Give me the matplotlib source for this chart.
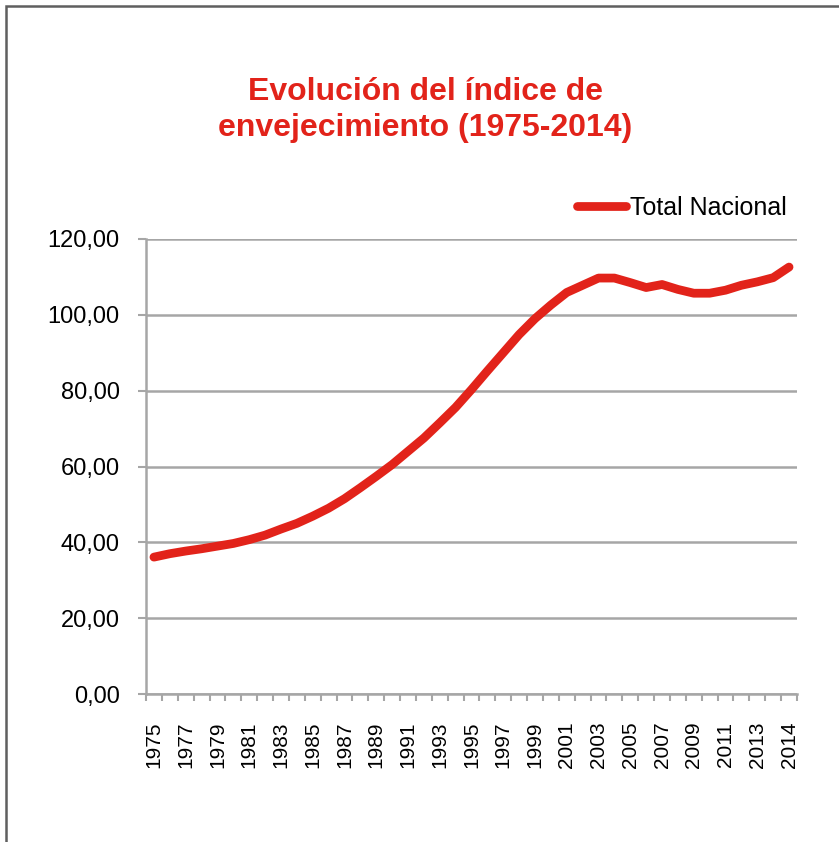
import matplotlib
matplotlib.use("Agg")
import matplotlib.pyplot as plt
from matplotlib.patches import Rectangle
from matplotlib.ticker import FuncFormatter

plt.rcParams['font.family'] = ['Liberation Sans', 'DejaVu Sans']

# datos (41 categorias, etiqueta cada dos)
categories = [str(y) for y in range(1975, 2014)] + ["2014", "2014"]
total_nacional = [36.1, 37.0, 37.7, 38.3, 39.0, 39.7, 40.7, 41.9, 43.5, 45.0,
                  46.9, 49.0, 51.5, 54.4, 57.4, 60.5, 64.0, 67.5, 71.5, 75.6,
                  80.3, 85.2, 90.0, 94.8, 99.0, 102.6, 105.9, 107.8, 109.7, 109.7,
                  108.5, 107.2, 108.0, 106.7, 105.7, 105.7, 106.5, 107.8, 108.7, 109.8,
                  112.6]
yticks = [0, 20, 40, 60, 80, 100, 120]
title = "Evolución del índice de\nenvejecimiento (1975-2014)"

red = "#e2231a"
grid_gray = "#a6a6a6"

fig = plt.figure(figsize=(8.39, 8.42), dpi=100)
ax = fig.add_axes([146 / 839, 1 - 694 / 842, (797 - 146) / 839, (694 - 239) / 842])

x = list(range(len(categories)))
ax.plot(x, total_nacional, color=red, lw=6.3, solid_capstyle='round',
        solid_joinstyle='round', label="Total Nacional")

ax.set_xlim(-0.5, len(categories) - 0.5)
ax.set_ylim(0, 120)
ax.set_yticks(yticks)
ax.yaxis.set_major_formatter(FuncFormatter(lambda v, p: f"{v:.2f}".replace(".", ",")))
ax.grid(axis='y', color=grid_gray, lw=1.8)
ax.set_axisbelow(True)

lab_idx = list(range(0, len(categories), 2))
ax.set_xticks(lab_idx)
ax.set_xticklabels([categories[i] for i in lab_idx], rotation=90, fontsize=15,
                   va='top')
ax.tick_params(axis='x', length=0, pad=20)
ax.set_xticks([i - 0.5 for i in range(len(categories) + 1)], minor=True)
ax.tick_params(axis='x', which='minor', length=5, width=1.5, color=grid_gray, direction='out')
ax.tick_params(axis='y', length=6, width=1.5, color=grid_gray, labelsize=17, pad=13)

for s in ['top', 'right']:
    ax.spines[s].set_visible(False)
for s in ['left', 'bottom']:
    ax.spines[s].set_color(grid_gray)
    ax.spines[s].set_linewidth(1.8)

fig.text(425 / 839, 1 - 110 / 842, title, ha='center', va='center', color=red,
         fontsize=23, fontweight='bold', linespacing=1.25)

ax.legend(loc='center left', bbox_to_anchor=(577 / 839, 1 - 208 / 842),
          bbox_transform=fig.transFigure, frameon=False, fontsize=18,
          handlelength=1.95, handletextpad=0.15, borderpad=0, borderaxespad=0)

# marco exterior (solo visible arriba e izquierda)
fig.patches.append(Rectangle((6 / 839, -0.1), 1.2, 1 - 6 / 842 + 0.1,
                             transform=fig.transFigure, fill=False,
                             edgecolor="#5f5f5f", lw=1.8))

fig.savefig("out.png", dpi=100)
